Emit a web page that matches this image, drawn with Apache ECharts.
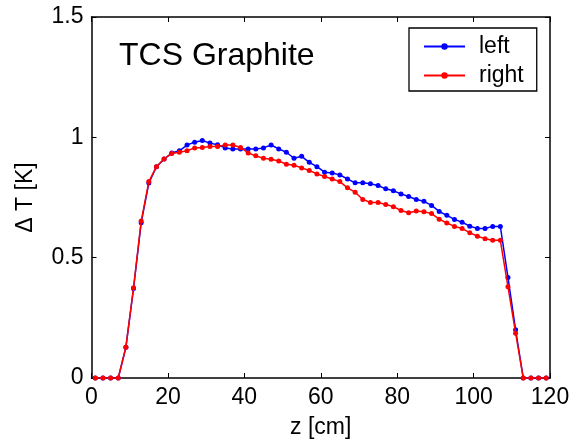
<!DOCTYPE html>
<html>
<head>
<meta charset="utf-8">
<script src="https://cdn.jsdelivr.net/npm/echarts@6/dist/echarts.min.js"></script>
<style>
  html, body { margin: 0; padding: 0; background: #fff; }
  #chart { width: 573px; height: 447px; }
</style>
</head>
<body>
<div id="chart"></div>
<script>
// Position along the target (cm), sampled every 2 cm
const zPositions = [1, 3, 5, 7, 9, 11, 13, 15, 17, 19, 21, 23, 25, 27, 29, 31, 33, 35, 37, 39,
  41, 43, 45, 47, 49, 51, 53, 55, 57, 59, 61, 63, 65, 67, 69, 71, 73, 75, 77, 79,
  81, 83, 85, 87, 89, 91, 93, 95, 97, 99, 101, 103, 105, 107, 109, 111, 113, 115, 117, 119];

// Temperature rise (K), left side sensors
const leftDeltaT = [0, 0, 0, 0, 0.128, 0.372, 0.645, 0.81, 0.878, 0.91, 0.935, 0.944, 0.968, 0.98, 0.987, 0.976, 0.969, 0.956, 0.952, 0.952,
  0.952, 0.952, 0.956, 0.968, 0.952, 0.938, 0.913, 0.921, 0.896, 0.878, 0.855, 0.852, 0.844, 0.827, 0.811, 0.811, 0.807, 0.800, 0.786, 0.778,
  0.765, 0.754, 0.742, 0.734, 0.717, 0.692, 0.676, 0.659, 0.647, 0.631, 0.621, 0.621, 0.630, 0.630, 0.418, 0.200, 0, 0, 0, 0];

// Temperature rise (K), right side sensors
const rightDeltaT = [0, 0, 0, 0, 0.128, 0.375, 0.652, 0.816, 0.878, 0.91, 0.933, 0.938, 0.944, 0.956, 0.958, 0.962, 0.962, 0.968, 0.968, 0.958,
  0.935, 0.923, 0.913, 0.909, 0.902, 0.888, 0.884, 0.873, 0.862, 0.848, 0.837, 0.827, 0.816, 0.790, 0.772, 0.742, 0.729, 0.729, 0.721, 0.712,
  0.696, 0.687, 0.694, 0.691, 0.683, 0.660, 0.644, 0.630, 0.621, 0.604, 0.589, 0.579, 0.572, 0.572, 0.379, 0.186, 0, 0, 0, 0];

const xTicks = { min: 0, max: 120, interval: 20 };
const yTicks = { min: 0, max: 1.5, interval: 0.5 };

const FONT = 'Liberation Sans, Arial, sans-serif';
const AXIS_COLOR = '#000';

function pairs(xs, ys) {
  return xs.map((x, i) => [x, ys[i]]);
}

function frameAxis(extra) {
  return Object.assign({
    type: 'value',
    axisLine: { show: true, onZero: false, lineStyle: { color: AXIS_COLOR, width: 1.5 } },
    axisTick: { show: true, inside: true, length: 5, lineStyle: { color: AXIS_COLOR, width: 1 } },
    splitLine: { show: false },
    axisLabel: { show: false }
  }, extra);
}

const chart = echarts.init(document.getElementById('chart'), null, { renderer: 'canvas' });

chart.setOption({
  backgroundColor: '#fff',
  animation: false,
  textStyle: { fontFamily: FONT },
  grid: { left: 91.5, right: 23, top: 17, bottom: 69, containLabel: false },
  xAxis: [
    frameAxis({
      position: 'bottom',
      min: xTicks.min, max: xTicks.max, interval: xTicks.interval,
      axisLabel: { show: true, color: '#000', fontSize: 23, fontFamily: FONT, margin: 8 },
      name: 'z [cm]', nameLocation: 'middle', nameGap: 38,
      nameTextStyle: { color: '#000', fontSize: 23, fontFamily: FONT }
    }),
    frameAxis({ position: 'top', min: xTicks.min, max: xTicks.max, interval: xTicks.interval })
  ],
  yAxis: [
    frameAxis({
      position: 'left',
      min: yTicks.min, max: yTicks.max, interval: yTicks.interval,
      axisLabel: { show: true, color: '#000', fontSize: 23, fontFamily: FONT, margin: 8 },
      name: 'Δ T [K]', nameLocation: 'middle', nameGap: 54, nameRotate: 90,
      nameTextStyle: { color: '#000', fontSize: 23, fontFamily: FONT }
    }),
    frameAxis({ position: 'right', min: yTicks.min, max: yTicks.max, interval: yTicks.interval })
  ],
  legend: {
    orient: 'vertical',
    left: 409, top: 28,
    backgroundColor: '#fff',
    borderColor: '#000', borderWidth: 1.3,
    padding: [7, 13, 4, 14],
    itemGap: 6,
    itemWidth: 41, itemHeight: 8,
    textStyle: { color: '#000', fontSize: 23, fontFamily: FONT, lineHeight: 22, padding: [0, 0, 0, 9] },
    data: ['left', 'right']
  },
  graphic: [{
    type: 'text',
    left: 119, top: 40,
    style: { text: 'TCS Graphite', fill: '#000', font: '32px ' + FONT }
  }],
  series: [
    {
      name: 'left', type: 'line',
      data: pairs(zPositions, leftDeltaT),
      symbol: 'circle', symbolSize: 5, showSymbol: true,
      itemStyle: { color: '#0000ff' },
      lineStyle: { color: '#0000ff', width: 1.5 },
      z: 2
    },
    {
      name: 'right', type: 'line',
      data: pairs(zPositions, rightDeltaT),
      symbol: 'circle', symbolSize: 5, showSymbol: true,
      itemStyle: { color: '#ff0000' },
      lineStyle: { color: '#ff0000', width: 1.5 },
      z: 3
    }
  ]
});
</script>
</body>
</html>
